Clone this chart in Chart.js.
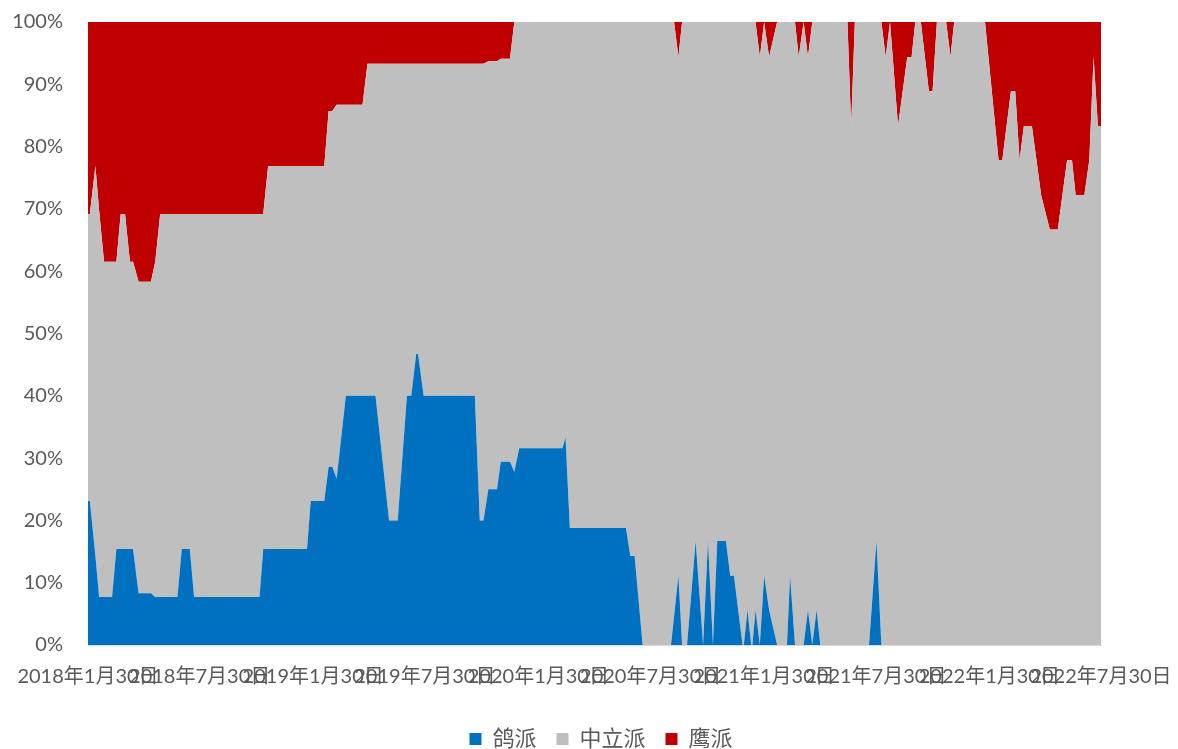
<!DOCTYPE html>
<html>
<head>
<meta charset="utf-8">
<script src="https://cdn.jsdelivr.net/npm/chart.js@4/dist/chart.umd.min.js"></script>
<style>
  html, body { margin: 0; padding: 0; background: #ffffff; }
  #wrap { width: 1178px; height: 749px; position: relative; }
</style>
</head>
<body>
<div id="wrap"><canvas id="c" width="1178" height="749"></canvas></div>
<script>
// Days elapsed since 2018-01-30 for each observation
const dayOffsets = [
  0, 3, 12, 18, 26, 39, 46, 53, 60, 68,
  73, 82, 102, 109, 117, 145, 152, 165, 172, 278,
  284, 292, 355, 361, 383, 390, 396, 403, 418, 445,
  453, 466, 488, 502, 517, 524, 532, 535, 544, 627,
  635, 641, 649, 663, 669, 684, 691, 699, 769, 774,
  781, 872, 879, 886, 899, 945, 950, 957, 963, 971,
  985, 997, 1005, 1013, 1020, 1034, 1041, 1047, 1061, 1063,
  1069, 1075, 1077, 1082, 1089, 1096, 1104, 1117, 1133, 1138,
  1146, 1152, 1160, 1167, 1174, 1181, 1187, 1231, 1237, 1243,
  1266, 1278, 1286, 1293, 1300, 1313, 1328, 1335, 1341, 1350,
  1363, 1369, 1376, 1391, 1398, 1404, 1454, 1476, 1482, 1496,
  1503, 1510, 1517, 1530, 1545, 1559, 1572, 1587, 1595, 1601,
  1615, 1623, 1630, 1637, 1642
];

// Share of doves (%)
const dovish = [
  23.1, 23.1, 14.3, 7.7, 7.7, 7.7, 15.4, 15.4, 15.4, 15.4,
  15.4, 8.3, 8.3, 7.7, 7.7, 7.7, 15.4, 15.4, 7.7, 7.7,
  15.4, 15.4, 15.4, 23.1, 23.1, 28.6, 28.6, 26.7, 40, 40,
  40, 40, 20, 20, 40, 40, 46.7, 46.7, 40, 40,
  20, 20, 25, 25, 29.4, 29.4, 27.8, 31.6, 31.6, 33.3,
  18.8, 18.8, 14.3, 14.3, 0, 0, 4.6, 11.1, 0, 0,
  16.7, 0, 16.7, 0, 16.7, 16.7, 11.1, 11.1, 0, 0,
  5.6, 0, 0, 5.6, 0, 11.1, 5.6, 0, 0, 11.1,
  0, 0, 0, 5.6, 0, 5.6, 0, 0, 0, 0,
  0, 16.7, 0, 0, 0, 0, 0, 0, 0, 0,
  0, 0, 0, 0, 0, 0, 0, 0, 0, 0,
  0, 0, 0, 0, 0, 0, 0, 0, 0, 0,
  0, 0, 0, 0, 0
];

// Share of hawks (%)
const hawkish = [
  30.8, 30.8, 23.1, 30.2, 38.5, 38.5, 38.5, 30.8, 30.8, 38.5,
  38.5, 41.7, 41.7, 38.5, 30.8, 30.8, 30.8, 30.8, 30.8, 30.8,
  30.8, 23.1, 23.1, 23.1, 23.1, 14.3, 14.3, 13.3, 13.3, 13.3,
  6.7, 6.7, 6.7, 6.7, 6.7, 6.7, 6.7, 6.7, 6.7, 6.7,
  6.7, 6.7, 6.3, 6.3, 5.9, 5.9, 0, 0, 0, 0,
  0, 0, 0, 0, 0, 0, 0, 5.6, 0, 0,
  0, 0, 0, 0, 0, 0, 0, 0, 0, 0,
  0, 0, 0, 0, 5.6, 0, 5.6, 0, 0, 0,
  0, 5.6, 0, 5.6, 0, 0, 0, 0, 16.7, 0,
  0, 0, 0, 5.6, 0, 16.7, 5.6, 5.6, 0, 0,
  11.1, 11.1, 0, 0, 5.6, 0, 0, 22.2, 22.2, 11.1,
  11.1, 22.2, 16.7, 16.7, 27.8, 33.3, 33.3, 22.2, 22.2, 27.8,
  27.8, 22.2, 5.6, 16.7, 16.7
];

// Neutral members make up the remainder
const neutral = dovish.map((d, i) => +(100 - d - hawkish[i]).toFixed(2));

const seriesNames = ['鸽派', '中立派', '鹰派'];
const seriesColors = ['#0070C0', '#BFBFBF', '#C00000'];

// Axis tick dates (every six months)
const tickDates = [
  '2018-01-30', '2018-07-30', '2019-01-30', '2019-07-30', '2020-01-30',
  '2020-07-30', '2021-01-30', '2021-07-30', '2022-01-30', '2022-07-30'
];
const startDate = '2018-01-30';

function dayIndex(s) {
  const [y, m, d] = s.split('-').map(Number);
  const [y0, m0, d0] = startDate.split('-').map(Number);
  return Math.round((Date.UTC(y, m - 1, d) - Date.UTC(y0, m0 - 1, d0)) / 86400000);
}
function dateLabel(s) {
  const [y, m, d] = s.split('-').map(Number);
  return y + '年' + m + '月' + d + '日';
}
const tickDays = tickDates.map(dayIndex);
const tickLabels = tickDates.map(dateLabel);

const FONT = "Lato, 'Noto Sans CJK SC', sans-serif";
const TEXT = '#595959';

function series(values, idx) {
  return {
    label: seriesNames[idx],
    data: dayOffsets.map((x, i) => ({ x: x, y: values[i] })),
    backgroundColor: seriesColors[idx],
    borderColor: seriesColors[idx],
    borderWidth: 0,
    pointRadius: 0,
    pointHoverRadius: 0,
    tension: 0,
    fill: idx === 0 ? 'origin' : '-1'
  };
}

// Nudge the legend row slightly right so it sits under the plot centre
const legendNudge = {
  id: 'legendNudge',
  afterLayout(chart) {
    if (chart.legend) {
      chart.legend.left += 12;
      chart.legend.right += 12;
    }
  }
};

new Chart(document.getElementById('c'), {
  type: 'line',
  data: {
    datasets: [series(dovish, 0), series(neutral, 1), series(hawkish, 2)]
  },
  plugins: [legendNudge],
  options: {
    responsive: false,
    animation: false,
    events: [],
    layout: { padding: 0 },
    scales: {
      x: {
        type: 'linear',
        min: tickDays[0],
        max: tickDays[tickDays.length - 1],
        afterBuildTicks: (scale) => { scale.ticks = tickDays.map(v => ({ value: v })); },
        afterFit: (scale) => {
          scale.height = 63;
          scale.paddingLeft = 0;
          scale.paddingRight = 77;
        },
        grid: { display: false, drawTicks: false },
        border: { display: true, color: '#D9D9D9', width: 1 },
        ticks: {
          autoSkip: false,
          maxRotation: 0,
          minRotation: 0,
          padding: 20,
          color: TEXT,
          font: { family: FONT, size: 20 },
          callback: (v) => {
            const i = tickDays.indexOf(v);
            return i >= 0 ? tickLabels[i] : '';
          }
        }
      },
      y: {
        stacked: true,
        min: 0,
        max: 100,
        afterFit: (scale) => {
          scale.width = 88;
          scale.paddingTop = 22;
          scale.paddingBottom = 0;
        },
        grid: { display: false, drawTicks: false },
        border: { display: false },
        ticks: {
          stepSize: 10,
          padding: 25,
          color: TEXT,
          font: { family: FONT, size: 20 },
          callback: (v) => v + '%'
        }
      }
    },
    plugins: {
      legend: {
        position: 'bottom',
        maxHeight: 41,
        labels: {
          boxWidth: 12,
          boxHeight: 12,
          padding: 20,
          color: TEXT,
          font: { family: FONT, size: 22 }
        }
      },
      tooltip: { enabled: false }
    }
  }
});
</script>
</body>
</html>
